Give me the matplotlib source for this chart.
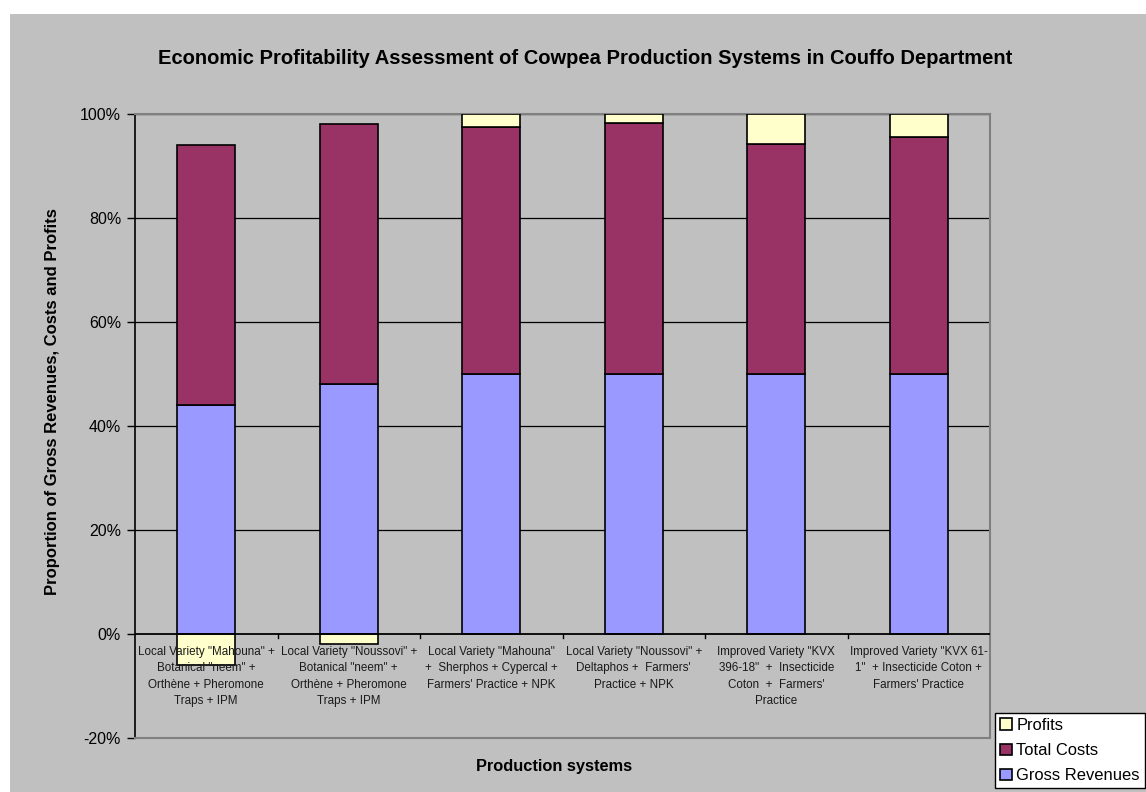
import matplotlib
matplotlib.use("Agg")
import matplotlib.pyplot as plt
from matplotlib.patches import Rectangle, Patch
from matplotlib.ticker import FuncFormatter
import numpy as np

# Shares (%) of gross revenues, total costs and profits per production system
systems = [
    'Local Variety "Mahouna" +\nBotanical "neem" +\nOrthène + Pheromone\nTraps + IPM',
    'Local Variety "Noussovi" +\nBotanical "neem" +\nOrthène + Pheromone\nTraps + IPM',
    'Local Variety "Mahouna"\n+  Sherphos + Cypercal +\nFarmers\' Practice + NPK',
    'Local Variety "Noussovi" +\nDeltaphos +  Farmers\'\nPractice + NPK',
    'Improved Variety "KVX\n396-18"  +  Insecticide\nCoton  +  Farmers\'\nPractice',
    'Improved Variety "KVX 61-\n1"  + Insecticide Coton +\nFarmers\' Practice',
]
gross_revenues = [44.0, 48.0, 50.0, 50.0, 50.0, 50.0]
total_costs = [50.0, 50.0, 47.55, 48.3, 44.2, 45.6]
profits = [-6.0, -2.0, 2.45, 1.7, 5.8, 4.4]

ytick_values = [-20, 0, 20, 40, 60, 80, 100]

title = "Economic Profitability Assessment of Cowpea Production Systems in Couffo Department"
ylabel = "Proportion of Gross Revenues, Costs and Profits"
xlabel = "Production systems"

C_REV = "#9999FF"
C_COST = "#993366"
C_PROF = "#FFFFCC"
BG = "#C0C0C0"

plt.rcParams["font.family"] = ["Liberation Sans", "DejaVu Sans"]

W, H = 1146, 792
fig = plt.figure(figsize=(W / 100, H / 100), dpi=100, facecolor="white")

# grey chart area with a thin white margin on top/left
fig.patches.append(Rectangle((10 / W, 0), 1 - 10 / W, 1 - 14 / H,
                             transform=fig.transFigure, facecolor=BG,
                             edgecolor="none", zorder=-5))

ax = fig.add_axes([135 / W, 1 - 738 / H, (990 - 135) / W, (738 - 114) / H])
ax.set_zorder(2)
ax.set_facecolor(BG)

x = np.arange(len(systems))
rev = np.array(gross_revenues)
cost = np.array(total_costs)
prof = np.array(profits)

bw = 0.41
ekw = dict(edgecolor="black", linewidth=1.2, zorder=3)
ax.bar(x, rev, bw, color=C_REV, **ekw)
ax.bar(x, cost, bw, bottom=rev, color=C_COST, **ekw)
prof_bottom = np.where(prof >= 0, rev + cost, 0)
ax.bar(x, prof, bw, bottom=prof_bottom, color=C_PROF, **ekw)

ax.set_xlim(-0.5, len(systems) - 0.5)
ax.set_ylim(-20, 100)
ax.set_yticks(ytick_values)
ax.yaxis.set_major_formatter(FuncFormatter(lambda v, p: f"{v:.0f}%"))
ax.tick_params(axis="y", direction="out", length=6, width=1, color="black",
               labelsize=11.5, pad=4)
ax.set_xticks([])

# gridlines
for v in ytick_values[2:]:
    ax.axhline(v, color="black", linewidth=0.9, zorder=1)
# category axis at 0% with boundary ticks
ax.axhline(0, color="black", linewidth=1.3, zorder=4)
for b in np.arange(0.5, len(systems) - 0.5, 1.0):
    ax.plot([b, b], [0, -0.7], color="black", linewidth=1, zorder=4)

for s in ["top", "right", "bottom"]:
    ax.spines[s].set_color("#808080")
    ax.spines[s].set_linewidth(1.5)
ax.spines["left"].set_color("black")
ax.spines["left"].set_linewidth(1.2)

for xi, lab in zip(x, systems):
    ax.text(xi, -2.3, lab, ha="center", va="top", fontsize=8.4,
            linespacing=1.5, color="#1a1a1a", zorder=6)

fig.text(585 / W, 1 - 59 / H, title, ha="center", va="center",
         fontsize=14.5, fontweight="bold")
fig.text(53 / W, 1 - 402 / H, ylabel, ha="center", va="center",
         rotation=90, fontsize=12, fontweight="bold")
fig.text(554 / W, 1 - 767 / H, xlabel, ha="center", va="center",
         fontsize=11.8, fontweight="bold")

handles = [Patch(facecolor=C_PROF, edgecolor="black", linewidth=1.2, label="Profits"),
           Patch(facecolor=C_COST, edgecolor="black", linewidth=1.2, label="Total Costs"),
           Patch(facecolor=C_REV, edgecolor="black", linewidth=1.2, label="Gross Revenues")]
leg = fig.legend(handles=handles, loc="upper left",
                 bbox_to_anchor=(995 / W, 1 - 713 / H),
                 frameon=True, fancybox=False, fontsize=11.9, framealpha=1,
                 handlelength=0.7, handleheight=0.7, handletextpad=0.3,
                 borderpad=0.3, labelspacing=0.62, borderaxespad=0)
leg.get_frame().set_edgecolor("black")
leg.get_frame().set_linewidth(1.0)
leg.get_frame().set_facecolor("white")

fig.savefig("out.png", dpi=100, facecolor=fig.get_facecolor())
